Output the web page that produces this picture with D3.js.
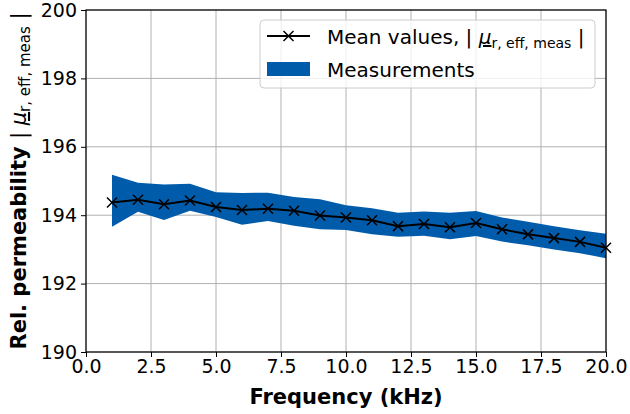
<!DOCTYPE html>
<html lang="en">
<head>
    <meta charset="UTF-8">
    <title>Permeability</title>
    <script type="text/javascript" src="https://d3js.org/d3.v7.min.js"></script>
    <style>
        body{ margin:0; background-color:white; }
        text{ font-family:"DejaVu Sans", sans-serif; }
    </style>
</head>
<body>
    <script type="text/javascript">
        var width=630;
        var height=414;

        // frequency points (kHz)
        var freq=[1,2,3,4,5,6,7,8,9,10,11,12,13,14,15,16,17,18,19,20];
        // mean values
        var meanVals=[194.37,194.45,194.32,194.43,194.24,194.15,194.19,194.13,193.99,193.93,
                      193.85,193.68,193.74,193.65,193.77,193.59,193.44,193.33,193.22,193.05];
        // measurement band (max / min)
        var upperVals=[195.18,194.95,194.90,194.92,194.67,194.65,194.66,194.53,194.47,194.29,
                       194.20,194.07,194.11,194.07,194.12,193.93,193.81,193.68,193.56,193.46];
        var lowerVals=[193.66,194.10,193.86,194.13,193.95,193.72,193.83,193.69,193.59,193.57,
                       193.44,193.37,193.40,193.30,193.39,193.23,193.12,193.00,192.89,192.74];
        var xTicks=[0,2.5,5,7.5,10,12.5,15,17.5,20];
        var yTicks=[190,192,194,196,198,200];

        var pLeft=86, pRight=606, pTop=10, pBottom=352;

        var svg=d3.select("body").append("svg")
                .attr("width",width)
                .attr("height",height);

        var x=d3.scaleLinear().domain([0,20]).range([pLeft,pRight]);
        var y=d3.scaleLinear().domain([190,200]).range([pBottom,pTop]);

        //网格
        var grid=svg.append("g");
        grid.selectAll("line.vx").data(xTicks).enter().append("line")
            .attr("x1",d=>x(d)).attr("x2",d=>x(d))
            .attr("y1",pTop).attr("y2",pBottom)
            .attr("stroke","#b0b0b0").attr("stroke-width",1);
        grid.selectAll("line.hy").data(yTicks).enter().append("line")
            .attr("y1",d=>y(d)).attr("y2",d=>y(d))
            .attr("x1",pLeft).attr("x2",pRight)
            .attr("stroke","#b0b0b0").attr("stroke-width",1);

        //测量区间
        var area=d3.area()
            .x((d,i)=>x(freq[i]))
            .y0((d,i)=>y(lowerVals[i]))
            .y1((d,i)=>y(upperVals[i]));
        svg.append("path")
            .datum(freq)
            .attr("d",area)
            .attr("fill","#005cab");

        //均值线
        var line=d3.line()
            .x((d,i)=>x(freq[i]))
            .y(d=>y(d));
        svg.append("path")
            .datum(meanVals)
            .attr("d",line)
            .attr("fill","none")
            .attr("stroke","black")
            .attr("stroke-width",2);

        var ms=5;
        svg.append("g").selectAll("path").data(meanVals).enter().append("path")
            .attr("d",(d,i)=>{
                var cx=x(freq[i]), cy=y(d);
                return "M"+(cx-ms)+","+(cy-ms)+"L"+(cx+ms)+","+(cy+ms)+
                       "M"+(cx-ms)+","+(cy+ms)+"L"+(cx+ms)+","+(cy-ms);
            })
            .attr("stroke","black")
            .attr("stroke-width",1.5);

        //坐标轴
        var xAxis=svg.append("g")
            .attr("transform","translate(0,"+pBottom+")")
            .call(d3.axisBottom(x).tickValues(xTicks).tickFormat(d3.format(".1f")).tickSize(5).tickPadding(3));
        var yAxis=svg.append("g")
            .attr("transform","translate("+pLeft+",0)")
            .call(d3.axisLeft(y).tickValues(yTicks).tickFormat(d3.format("d")).tickSize(5).tickPadding(4));
        [xAxis,yAxis].forEach(function(a){
            a.select(".domain").remove();
            a.selectAll("text").attr("font-size",19).attr("fill","black")
                .style("font-family","DejaVu Sans");
            a.selectAll("line").attr("stroke","black").attr("stroke-width",1);
        });

        svg.append("rect")
            .attr("x",pLeft).attr("y",pTop)
            .attr("width",pRight-pLeft).attr("height",pBottom-pTop)
            .attr("fill","none").attr("stroke","black").attr("stroke-width",1.2);

        //图例
        var lg=svg.append("g");
        lg.append("rect")
            .attr("x",260).attr("y",20).attr("width",335).attr("height",68)
            .attr("rx",4)
            .attr("fill","white").attr("fill-opacity",0.8)
            .attr("stroke","#cccccc");
        lg.append("line")
            .attr("x1",267).attr("x2",310).attr("y1",36).attr("y2",36)
            .attr("stroke","black").attr("stroke-width",2);
        lg.append("path")
            .attr("d","M"+(288.5-ms)+","+(36-ms)+"L"+(288.5+ms)+","+(36+ms)+
                      "M"+(288.5-ms)+","+(36+ms)+"L"+(288.5+ms)+","+(36-ms))
            .attr("stroke","black").attr("stroke-width",1.5);
        var t1=lg.append("text").attr("x",327).attr("y",44).attr("font-size",20);
        t1.append("tspan").text("Mean values, | ");
        t1.append("tspan").text("μ").attr("font-style","italic").style("text-decoration","underline");
        t1.append("tspan").text("r, eff, meas").attr("font-size",14).attr("dy",4);
        t1.append("tspan").text(" |").attr("dy",-4);

        lg.append("rect")
            .attr("x",267).attr("y",62).attr("width",43).attr("height",14)
            .attr("fill","#005cab");
        lg.append("text").attr("x",327).attr("y",77).attr("font-size",20).text("Measurements");

        //轴标题
        svg.append("text")
            .attr("x",(pLeft+pRight)/2).attr("y",404)
            .attr("text-anchor","middle")
            .attr("font-size",21).attr("font-weight","bold")
            .text("Frequency (kHz)");

        var yl=svg.append("text")
            .attr("transform","translate(26,181) rotate(-90)")
            .attr("text-anchor","middle")
            .attr("font-size",21);
        yl.append("tspan").text("Rel. permeability ").attr("font-weight","bold");
        yl.append("tspan").text("| ");
        yl.append("tspan").text("μ").attr("font-style","italic").style("text-decoration","underline");
        yl.append("tspan").text("r, eff, meas").attr("font-size",15).attr("dy",4);
        yl.append("tspan").text(" |").attr("dy",-4);
    </script>
</body>
</html>
